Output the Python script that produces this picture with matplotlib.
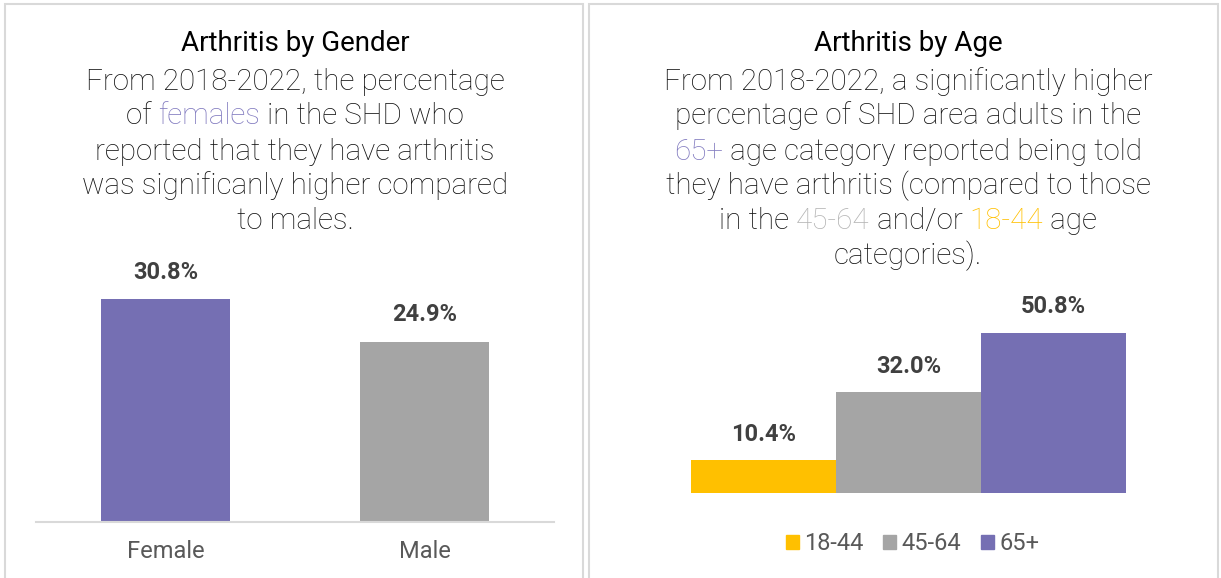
import matplotlib.pyplot as plt
from matplotlib.patches import Rectangle, Patch

# data
gender_labels = ['Female', 'Male']
gender_values = [30.8, 24.9]
age_labels = ['18-44', '45-64', '65+']
age_values = [10.4, 32.0, 50.8]

PURPLE = '#756fb3'
GRAY = '#a5a5a5'
GOLD = '#ffc000'
TEXT = '#111111'

W, H = 1221, 578
fig = plt.figure(figsize=(W / 100, H / 100), dpi=100)
plt.rcParams['font.family'] = ['Roboto', 'DejaVu Sans']

# panel frames
for x0, x1 in [(5, 583), (589, 1218)]:
    fig.patches.append(Rectangle((x0 / W, -0.01), (x1 - x0) / W, 1 - 4 / H + 0.01,
                                 transform=fig.transFigure, fill=False,
                                 edgecolor='#d9d9d9', linewidth=1.5))

renderer = fig.canvas.get_renderer()


def text_width(s, **kw):
    # width including trailing spaces, measured against a bar glyph
    t1 = fig.text(0, 0, s + '|', **kw)
    t2 = fig.text(0, 0, '|', **kw)
    w = t1.get_window_extent(renderer).width - t2.get_window_extent(renderer).width
    t1.remove()
    t2.remove()
    return w


def line(cx, y, parts, size=21.3, weight='light'):
    kw = dict(fontsize=size, fontweight=weight)
    widths = [text_width(s, **kw) for s, _ in parts]
    x = cx - sum(widths) / 2
    for (s, c), w in zip(parts, widths):
        fig.text(x / W, 1 - y / H, s, color=c, ha='left', va='baseline', **kw)
        x += w


LINE_GAP = 35
FIRST = 89.5

# left panel text
cx = 295
fig.text(cx / W, 1 - 51 / H, 'Arthritis by Gender', ha='center', va='baseline',
         fontsize=20, fontweight='regular', color='black')
left_lines = [
    [('From 2018-2022, the percentage', TEXT)],
    [('of ', TEXT), ('females', '#8079bf'), (' in the SHD who', TEXT)],
    [('reported that they have arthritis', TEXT)],
    [('was significanly higher compared', TEXT)],
    [('to males.', TEXT)],
]
for i, parts in enumerate(left_lines):
    line(cx, FIRST + LINE_GAP * i, parts)

# right panel text
cx = 908
fig.text(cx / W, 1 - 51 / H, 'Arthritis by Age', ha='center', va='baseline',
         fontsize=20, fontweight='regular', color='black')
right_lines = [
    [('From 2018-2022, a significantly higher', TEXT)],
    [('percentage of SHD area adults in the', TEXT)],
    [('65+', '#8079bf'), (' age category reported being told', TEXT)],
    [('they have arthritis (compared to those', TEXT)],
    [('in the ', TEXT), ('45-64', '#b4b4b4'), (' and/or ', TEXT), ('18-44', GOLD), (' age', TEXT)],
    [('categories).', TEXT)],
]
for i, parts in enumerate(right_lines):
    line(cx, FIRST + LINE_GAP * i, parts)

# left chart
ax1 = fig.add_axes([36 / W, 1 - 521.5 / H, 518 / W, 261 / H])
ax1.bar(range(2), gender_values, width=0.5, color=[PURPLE, GRAY])
ax1.set_xlim(-0.5, 1.5)
ax1.set_ylim(0, 261 / 7.22)
for i, v in enumerate(gender_values):
    ax1.annotate(f'{v:.1f}%', (i, v), xytext=(0, 27), textcoords='offset pixels',
                 ha='center', va='center', fontsize=17, fontweight='bold', color='#404040')
ax1.set_xticks(range(2), gender_labels)
ax1.tick_params(axis='x', length=0, pad=13, labelsize=17, labelcolor='#595959')
ax1.set_yticks([])
for s in ['top', 'left', 'right']:
    ax1.spines[s].set_visible(False)
ax1.spines['bottom'].set_color('#d9d9d9')
ax1.spines['bottom'].set_linewidth(1.5)
ax1.patch.set_alpha(0)

# right chart
ax2 = fig.add_axes([691 / W, 1 - 493 / H, 435 / W, 203 / H])
ax2.bar(range(3), age_values, width=1.0, color=[GOLD, GRAY, PURPLE])
ax2.set_xlim(-0.5, 2.5)
ax2.set_ylim(0, 203 / 3.15)
for i, v in enumerate(age_values):
    ax2.annotate(f'{v:.1f}%', (i, v), xytext=(0, 26), textcoords='offset pixels',
                 ha='center', va='center', fontsize=17, fontweight='bold', color='#404040')
ax2.axis('off')
handles = [Patch(color=c) for c in [GOLD, GRAY, PURPLE]]
fig.legend(handles, age_labels, loc='center', bbox_to_anchor=(912.5 / W, 1 - 544 / H),
           ncol=3, frameon=False, fontsize=17, labelcolor='#595959',
           handlelength=0.55, handleheight=0.55, handletextpad=0.22,
           columnspacing=0.85, borderpad=0, borderaxespad=0)

fig.savefig('out.png', dpi=100, facecolor='white')
